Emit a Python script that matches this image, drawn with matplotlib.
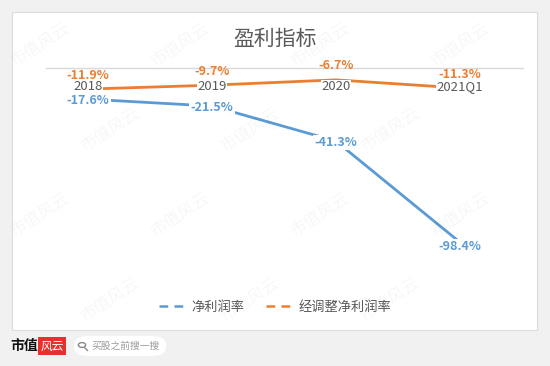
import matplotlib
matplotlib.use('Agg')
import matplotlib.pyplot as plt
from matplotlib.lines import Line2D
from matplotlib.patches import FancyBboxPatch, Rectangle, Circle

plt.rcParams['font.family'] = ['Noto Sans CJK SC', 'DejaVu Sans']

# 数据
categories = ['2018', '2019', '2020', '2021Q1']
net_margin = [-17.6, -21.5, -41.3, -98.4]          # 净利润率
adj_net_margin = [-11.9, -9.7, -6.7, -11.3]        # 经调整净利润率
series_names = ['净利润率', '经调整净利润率']

BLUE = '#5B9BD5'
ORANGE = '#ED7D31'
GRAY = '#595959'

W, H = 550, 366


def px(x, y):
    """像素坐标(左上为原点) -> figure 坐标"""
    return x / W, 1 - y / H


fig = plt.figure(figsize=(5.5, 3.66), dpi=100)
fig.patch.set_facecolor('#f1f1f1')

# 白色面板
panel = FancyBboxPatch(px(12, 330), 525 / W, 318 / H, boxstyle='square,pad=0',
                       transform=fig.transFigure, facecolor='white',
                       edgecolor='#dcdcdc', linewidth=0.8, zorder=-5)
fig.patches.append(panel)

# 水印
for row, yy in enumerate(range(45, 366, 85)):
    shift = 70 if row % 2 else 0
    for xx in range(40 + shift, 515, 140):
        fig.text(*px(xx, yy), '市值风云', rotation=33, fontsize=12, color='#000000',
                 alpha=0.035, ha='center', va='center', zorder=10)

# 标题
fig.text(*px(275, 39), '盈利指标', fontsize=15, color=GRAY, ha='center', va='center')

# 坐标区
left, top, right = 46, 68, 523
ymin = -120
pxpp = 1.77
bottom = top + (-ymin) * pxpp
x0, y0 = px(left, bottom)
ax = fig.add_axes([x0, y0, (right - left) / W, (bottom - top) / H])
ax.set_zorder(2)
ax.set_facecolor('none')
ax.set_xlim(-0.34, 3.51)
ax.set_ylim(ymin, 0)
for s in ['left', 'right', 'bottom']:
    ax.spines[s].set_visible(False)
ax.spines['top'].set_color('#d9d9d9')
ax.spines['top'].set_linewidth(1.0)
ax.set_xticks([])
ax.set_yticks([])

xs = list(range(len(categories)))
ax.plot(xs, net_margin, color=BLUE, linewidth=2.0, zorder=2, clip_on=False)
ax.plot(xs, adj_net_margin, color=ORANGE, linewidth=2.0, zorder=2, clip_on=False)

# 分类标签
for i, c in enumerate(categories):
    ax.annotate(c, (i, 0), xytext=(0, -13.5), textcoords='offset points',
                ha='center', va='center', fontsize=9.5, color=GRAY, zorder=4,
                bbox=dict(boxstyle='square,pad=0.05', facecolor='white', edgecolor='none'))

# 数据标签
for i, v in enumerate(adj_net_margin):
    ax.annotate(f'{v:.1f}%', (i, v), xytext=(0, 10), textcoords='offset points',
                ha='center', va='center', fontsize=9, color=ORANGE, fontweight='bold', zorder=5)
for i, v in enumerate(net_margin):
    ax.annotate(f'{v:.1f}%', (i, v), xytext=(0, -1 if i < 3 else -3), textcoords='offset points',
                ha='center', va='center', fontsize=9, color=BLUE, fontweight='bold', zorder=5,
                bbox=dict(boxstyle='square,pad=0.1', facecolor='white', edgecolor='none'))

# 图例
handles = [Line2D([], [], color=BLUE, linewidth=1.8, linestyle=(0, (3.5, 2.5))),
           Line2D([], [], color=ORANGE, linewidth=1.8, linestyle=(0, (3.5, 2.5)))]
fig.legend(handles, series_names, loc='center', bbox_to_anchor=px(275, 307),
           ncol=2, frameon=False, fontsize=9.5, handlelength=2.2, handletextpad=0.3,
           columnspacing=1.6, labelcolor=GRAY)

# 页脚
fig.text(*px(10, 346), '市值', fontsize=10, fontweight='bold', color='#111111',
         ha='left', va='center')
fig.patches.append(Rectangle(px(38, 355), 28 / W, 18 / H, transform=fig.transFigure,
                             facecolor='#e8302c', edgecolor='none'))
fig.text(*px(52, 346), '风云', fontsize=8.5, color='white', style='italic',
         ha='center', va='center')
fig.patches.append(FancyBboxPatch(px(74, 356), 92 / W, 20 / H, transform=fig.transFigure,
                                  boxstyle='round,pad=0,rounding_size=0.025',
                                  facecolor='white', edgecolor='none'))
fig.patches.append(Circle(px(82, 345), 3.6 / W, transform=fig.transFigure,
                          facecolor='none', edgecolor='#888888', linewidth=1.0))
fig.lines.append(Line2D([84.8 / W, 87.5 / W], [1 - 347.8 / H, 1 - 350.5 / H],
                        transform=fig.transFigure, color='#888888', linewidth=1.0))
fig.text(*px(91, 346), '买股之前搜一搜', fontsize=7, color='#9a9a9a', ha='left', va='center')

fig.savefig('out.png', dpi=100, facecolor=fig.get_facecolor())
